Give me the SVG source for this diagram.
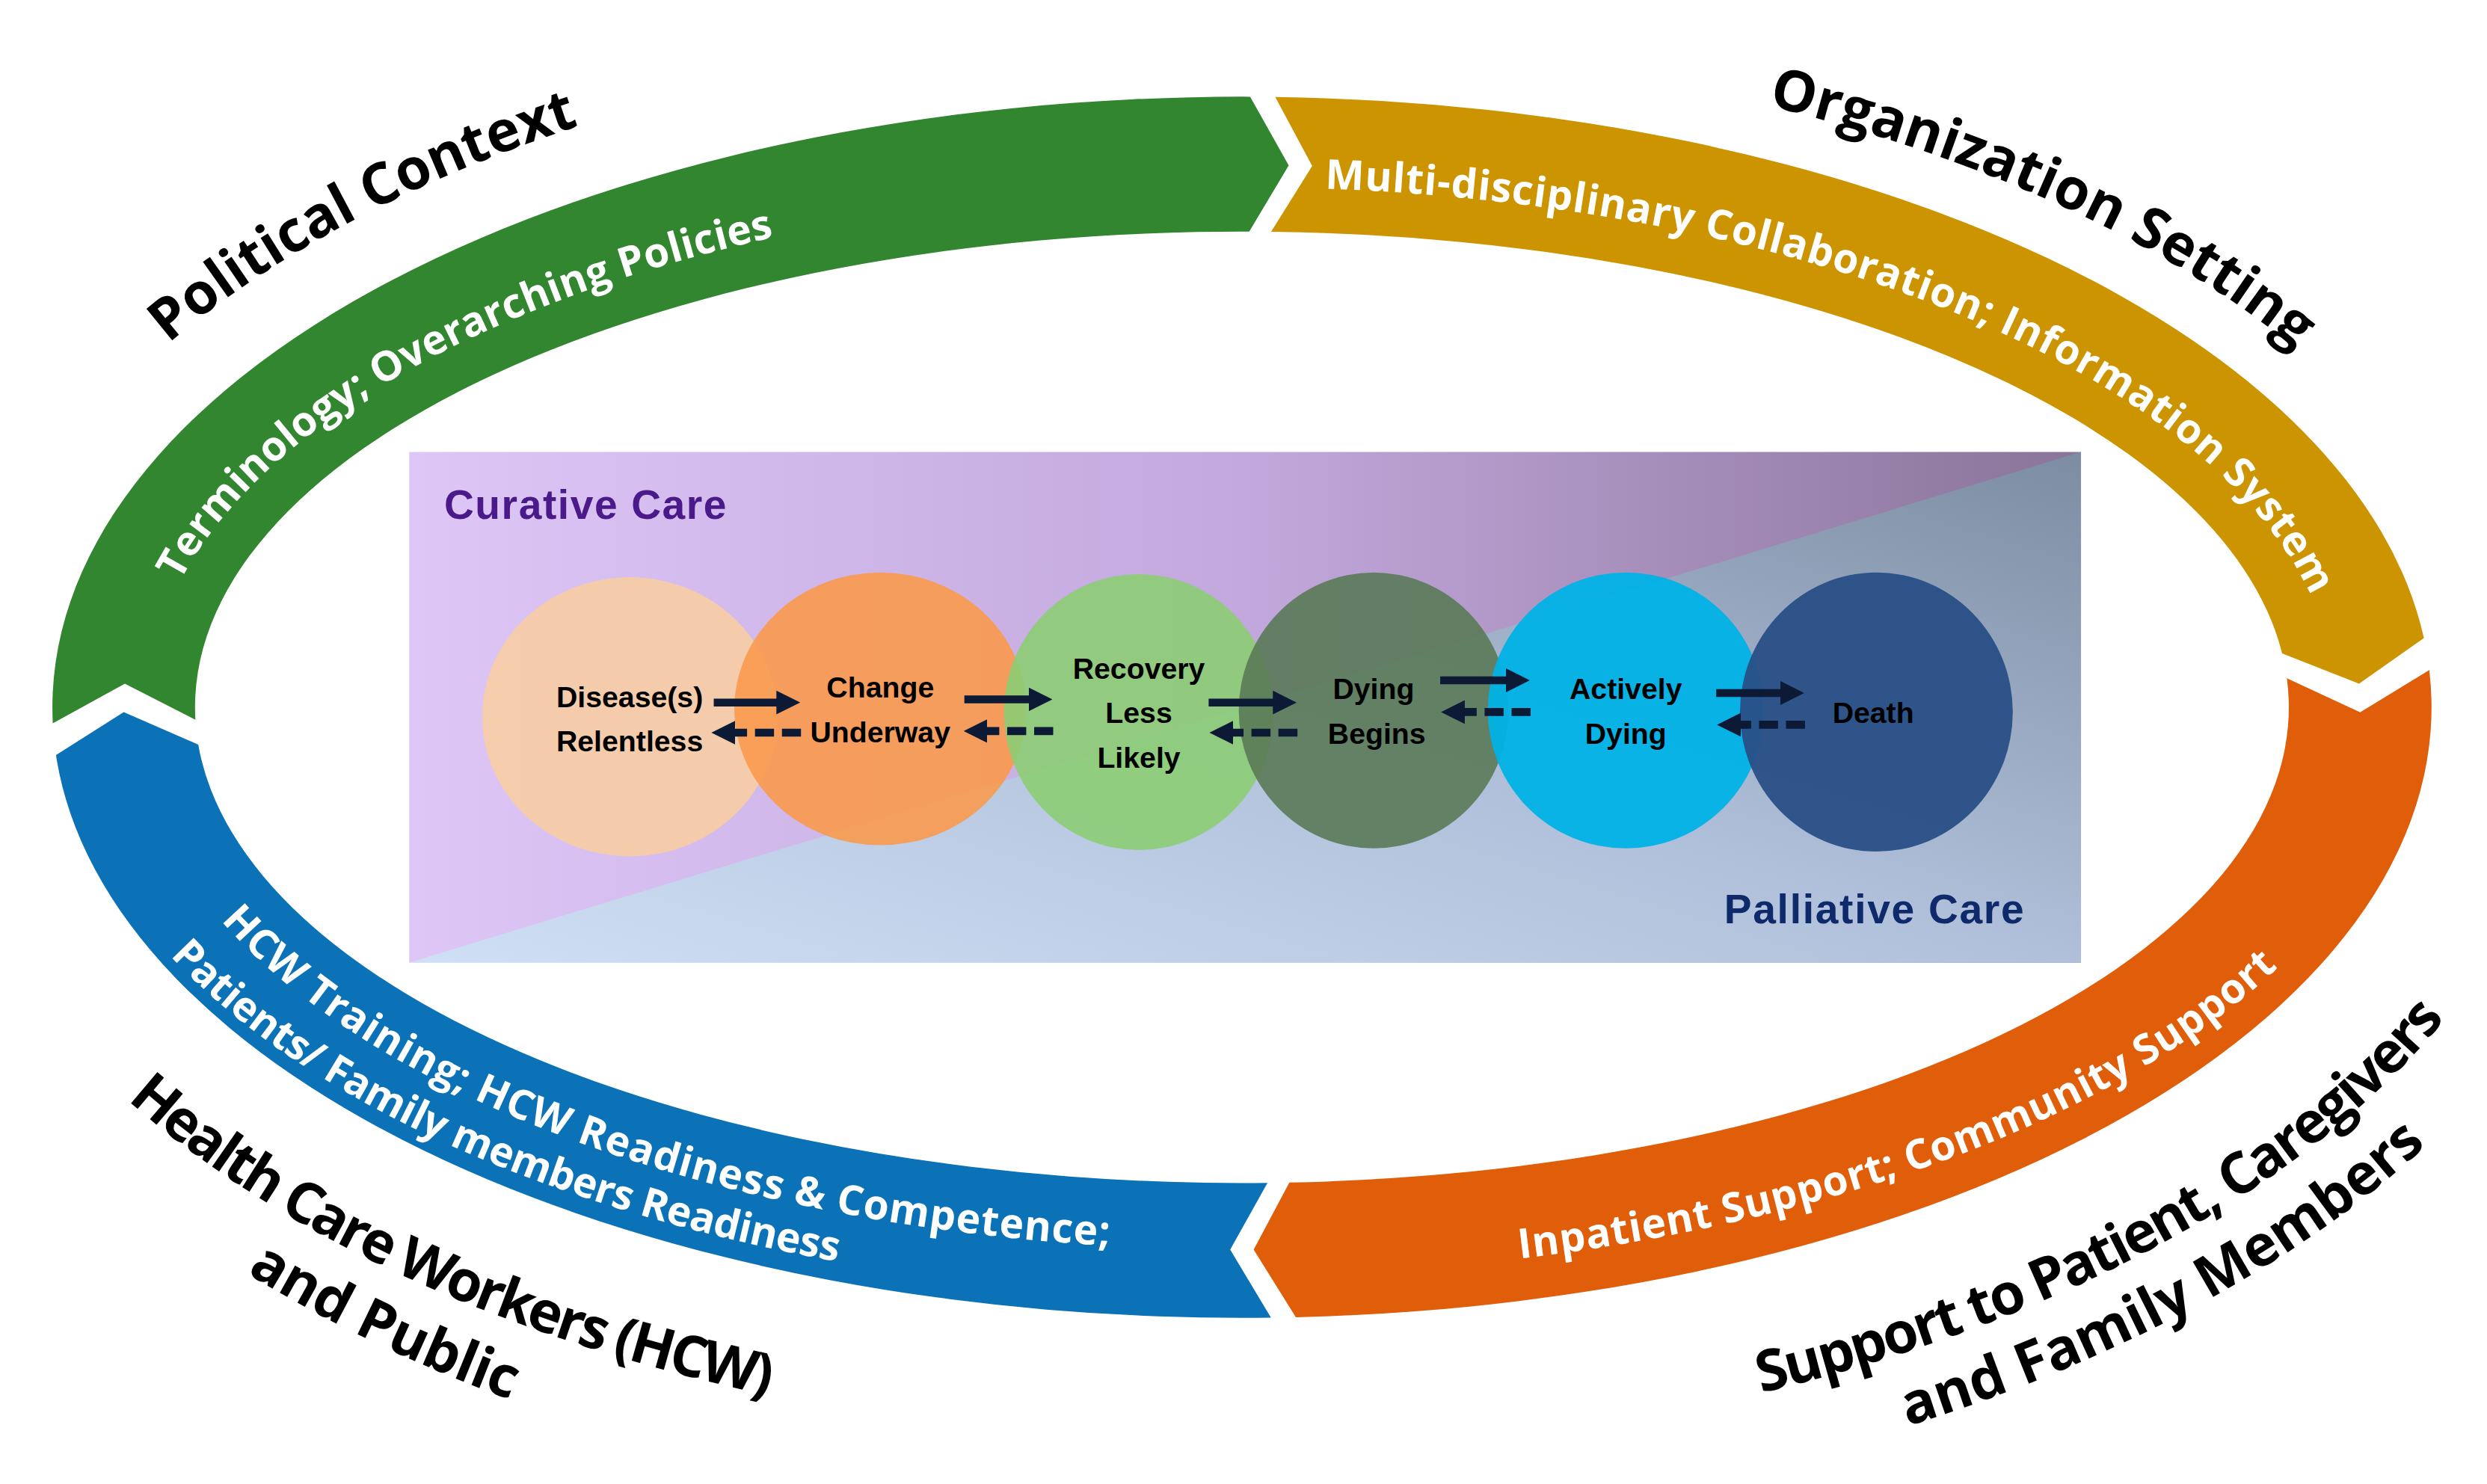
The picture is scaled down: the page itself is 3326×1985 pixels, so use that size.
<svg xmlns="http://www.w3.org/2000/svg" width="3326" height="1985" viewBox="0 0 3326 1985">
<style>
.out{font-family:"Open Sans","Liberation Sans",sans-serif;font-weight:700;font-size:36px;fill:#000}
.band{font-family:"Open Sans","Liberation Sans",sans-serif;font-weight:700;font-size:26px;fill:#fff}
.node{font-family:"Liberation Sans",Arial,sans-serif;font-weight:700;font-size:18.5px;fill:#000;text-anchor:middle}
.care{font-family:"Liberation Sans",Arial,sans-serif;font-weight:700;font-size:26px}
.sol{stroke:#0c1a36;stroke-width:5;fill:none}
.dsh{stroke:#0c1a36;stroke-width:5;fill:none;stroke-dasharray:12 5}
</style>
<defs>
<linearGradient id="gp" x1="0" y1="0" x2="1" y2="0"><stop offset="0" stop-color="#dec6f7"/><stop offset="0.5" stop-color="#c2a8dc"/><stop offset="1" stop-color="#8a7499"/></linearGradient>
<linearGradient id="gb" x1="0" y1="1" x2="1" y2="0"><stop offset="0" stop-color="#cfdff5"/><stop offset="0.5" stop-color="#b0c0da"/><stop offset="1" stop-color="#7c8ca2"/></linearGradient>
<marker id="ah" viewBox="0 0 10 10" refX="5" refY="5" markerWidth="3" markerHeight="3" orient="auto"><path d="M0,0 L10,5 L0,10 Z" fill="#0c1a36"/></marker>
<path id="p1" d="M -14 408.5 A 800 430 0 0 1 713.3 17.6"/>
<path id="p2" d="M 93.1 451.7 A 690 328 0 0 1 651.3 124"/>
<path id="p3" d="M 817.4 28.4 A 790 418 0 0 1 1566.2 391.5"/>
<path id="p4" d="M 734.8 118.8 A 690 328 0 0 1 1471.3 423.1"/>
<path id="p5" d="M 89.8 493.6 A 700 342 0 0 0 880.4 784.7"/>
<path id="p5b" d="M 38 449.2 A 745 372 0 0 0 789.5 818"/>
<path id="p6" d="M 718.9 802.6 A 735 358 0 0 0 1515.2 477.2"/>
<path id="p7" d="M -34.4 526.7 A 830 465 0 0 0 783 911"/>
<path id="p8" d="M -72.4 539.9 A 870 515 0 0 0 790.6 961"/>
<path id="p9" d="M 855.8 914.2 A 835 470 0 0 0 1614.8 487"/>
<path id="p10" d="M 844.8 959.7 A 885 515 0 0 0 1663.2 499.8"/>
</defs>
<rect width="3326" height="1985" fill="#fff"/>
<g transform="scale(2.12121)">
<g id="ring">
<path id="seg-green" fill="#31862f" d="M33.3 456.1 A750 385 0 0 1 788.2 61 L812.5 104.3 L787.6 146 A660 300 0 0 0 123.2 453.9 L78.7 431.1 Z"/>
<path id="seg-gold" fill="#cc9400" d="M804 61.2 A750 385 0 0 1 1528.2 402.4 L1487.3 431.1 L1438.8 412 A660 300 0 0 0 801.4 146.1 L827.3 104.7 Z"/>
<path id="seg-orange" fill="#e05e0a" d="M1531.6 422.5 A750 385 0 0 1 817 830.6 L790.4 788 L812.9 745.7 A660 300 0 0 0 1441.8 427.7 L1488 449.1 Z"/>
<path id="seg-blue" fill="#0b72b8" d="M801.3 830.9 A750 385 0 0 1 35.3 476.2 L78 449 L125 469.5 A660 300 0 0 0 799.1 745.9 L775.6 788 Z"/>
</g>
<g id="ring-labels">
<text class="out"><textPath href="#p1" startOffset="43%" text-anchor="middle" textLength="295">Political Context</textPath></text>
<text class="band"><textPath href="#p2" startOffset="44.5%" text-anchor="middle" textLength="445">Terminology; Overarching Policies</textPath></text>
<text class="out"><textPath href="#p3" startOffset="55%" text-anchor="middle" textLength="370">Organization Setting</textPath></text>
<text class="band"><textPath href="#p4" startOffset="53%" text-anchor="middle" textLength="700">Multi-disciplinary Collaboration; Information System</textPath></text>
<text class="band"><textPath href="#p5" startOffset="45.5%" text-anchor="middle" textLength="610">HCW Training; HCW Readiness &amp; Competence;</textPath></text>
<text class="band"><textPath href="#p5b" startOffset="45%" text-anchor="middle" textLength="470">Patients/ Family members Readiness</textPath></text>
<text class="band"><textPath href="#p6" startOffset="54.5%" text-anchor="middle" textLength="520">Inpatient Support; Community Support</textPath></text>
<text class="out"><textPath href="#p7" startOffset="45%" text-anchor="middle" textLength="450">Health Care Workers (HCW)</textPath></text>
<text class="out"><textPath href="#p8" startOffset="44%" text-anchor="middle" textLength="185">and Public</textPath></text>
<text class="out"><textPath href="#p9" startOffset="54.5%" text-anchor="middle" textLength="500">Support to Patient, Caregivers</textPath></text>
<text class="out"><textPath href="#p10" startOffset="55%" text-anchor="middle" textLength="375">and Family Members</textPath></text>
</g>
<g id="panel">
<rect x="258" y="285" width="1054" height="322" fill="url(#gp)"/>
<polygon points="258,607 1312,285 1312,607" fill="url(#gb)"/>
<text class="care" x="280" y="327" fill="#4b1a8a" textLength="178">Curative Care</text>
<text class="care" x="1087" y="582" fill="#0f2a6b" textLength="189">Palliative Care</text>
</g>
<g id="n1"><ellipse cx="397" cy="452" rx="93" ry="88" fill="#f7cda5" opacity="0.92"/><text class="node" x="397" y="446">Disease(s)</text><text class="node" x="397" y="474">Relentless</text></g>
<g id="n2"><ellipse cx="555" cy="447" rx="92" ry="86" fill="#fa9a4e" opacity="0.9"/><text class="node" x="555" y="440">Change</text><text class="node" x="555" y="468">Underway</text></g>
<g id="n3"><ellipse cx="718" cy="449" rx="85" ry="87" fill="#8ccd74" opacity="0.9"/><text class="node" x="718" y="428">Recovery</text><text class="node" x="718" y="456">Less</text><text class="node" x="718" y="484">Likely</text></g>
<g id="n4"><ellipse cx="866" cy="448" rx="85" ry="87" fill="#5a7a58" opacity="0.9"/><text class="node" x="866" y="441">Dying</text><text class="node" x="868" y="469">Begins</text></g>
<g id="n5"><ellipse cx="1025" cy="448" rx="87" ry="87" fill="#00b2e6" opacity="0.95"/><text class="node" x="1025" y="441">Actively</text><text class="node" x="1025" y="469">Dying</text></g>
<g id="n6"><ellipse cx="1183" cy="449" rx="86" ry="88" fill="#284f86" opacity="0.95"/><text class="node" x="1181" y="456">Death</text></g>
<g id="connectors">
<line class="sol" x1="450" y1="443" x2="497" y2="443" marker-end="url(#ah)"/>
<line class="dsh" x1="505" y1="462" x2="456" y2="462" marker-end="url(#ah)"/>
<line class="sol" x1="608" y1="441" x2="656" y2="441" marker-end="url(#ah)"/>
<line class="dsh" x1="664" y1="461" x2="615" y2="461" marker-end="url(#ah)"/>
<line class="sol" x1="762" y1="443" x2="810" y2="443" marker-end="url(#ah)"/>
<line class="dsh" x1="818" y1="462" x2="770" y2="462" marker-end="url(#ah)"/>
<line class="sol" x1="908" y1="429" x2="957" y2="429" marker-end="url(#ah)"/>
<line class="dsh" x1="965" y1="449" x2="916" y2="449" marker-end="url(#ah)"/>
<line class="sol" x1="1082" y1="437" x2="1130" y2="437" marker-end="url(#ah)"/>
<line class="dsh" x1="1138" y1="457" x2="1090" y2="457" marker-end="url(#ah)"/>
</g>
</g>
</svg>
